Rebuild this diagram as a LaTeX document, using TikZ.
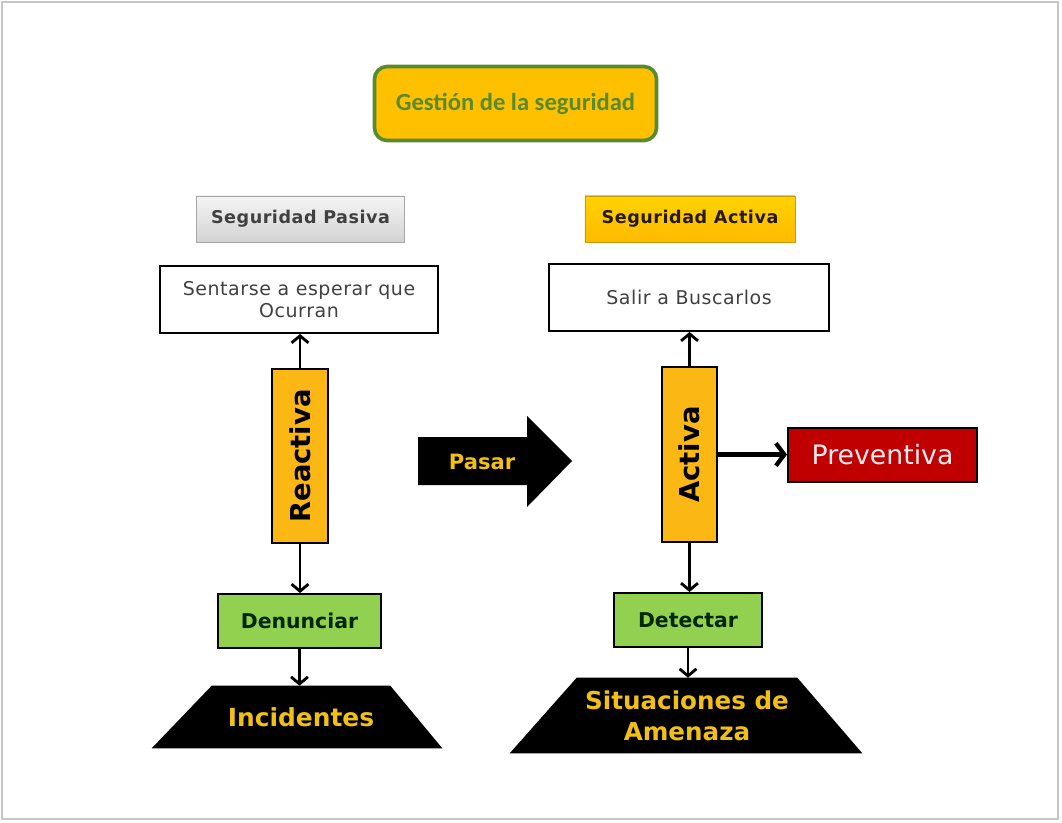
\documentclass[tikz,border=0pt]{standalone}
\usepackage{fontspec}
\setmainfont{DejaVu Sans}
\newfontfamily\calib{Carlito}
\newfontfamily\spaced[LetterSpace=3]{DejaVu Sans}
\usepackage{tikz}
\usetikzlibrary{shapes.geometric, arrows.meta, positioning, calc, backgrounds}

\definecolor{oro}{HTML}{FFC000}
\definecolor{barra}{HTML}{FBB714}
\definecolor{oliva}{HTML}{5A8A2F}
\definecolor{verde}{HTML}{92D050}
\definecolor{rojo}{HTML}{C00000}
\definecolor{letraoro}{HTML}{F2C014}
\definecolor{gristxt}{HTML}{404040}

\tikzset{
  >={Straight Barb[length=5pt,width=12pt,line width=2pt]},
  flecha/.style={->, line width=2pt},
  caja/.style={draw=black, line width=1.4pt, fill=white, align=center, inner sep=2pt},
  barrabox/.style={draw=black, line width=1.4pt, fill=barra, minimum width=1.4cm, minimum height=4.35cm},
  verdebox/.style={draw=black, line width=1.4pt, fill=verde, minimum height=1.35cm},
  base/.style={inner sep=0pt, align=center, text=letraoro}
}

\begin{document}
\begin{tikzpicture}[x=0.025cm, y=-0.025cm]
\useasboundingbox (0,0) rectangle (1062,822);
\draw [gray!45, line width=1pt] (2,2) rectangle (1058,819);

\node (gestion) [draw=oliva, line width=2.6pt, rounded corners=9pt, fill=oro, minimum width=7.05cm, minimum height=1.85cm, text=oliva, font=\calib\bfseries\fontsize{17.5}{20}\selectfont] at (515.5,103.5) {Gestión de la seguridad};

% columna pasiva
\node (pasiva) [draw=gray!70, top color=gray!8, bottom color=gray!35, minimum width=5.2cm, minimum height=1.15cm, text=gristxt, font=\spaced\bfseries\fontsize{12.5}{15}\selectfont] at (300.5,219) {Seguridad Pasiva};
\node (sentarse) [caja, minimum width=6.95cm, minimum height=1.675cm, text=gristxt, font=\spaced\fontsize{13.5}{15.6}\selectfont] at (299,299.5) {Sentarse a esperar que\\Ocurran};
\node (reactiva) [barrabox] at (300,456) {\rotatebox{90}{\bfseries\fontsize{19.5}{22}\selectfont Reactiva}};
\node (denunciar) [verdebox, minimum width=4.075cm, font=\bfseries\fontsize{14.5}{17}\selectfont, text=black!85!green] at (299.5,621) {Denunciar};
\node (incidentes) [base, minimum width=4.45cm, minimum height=1.55cm, font=\bfseries\fontsize{17.7}{20}\selectfont] at (301,717) {Incidentes};
\begin{scope}[on background layer]
\fill [black] (incidentes.north west) -- (incidentes.north east) -- ($(incidentes.south east)+(52,0)$) -- ($(incidentes.south west)+(-60,0)$) -- cycle;
\end{scope}

    \draw [flecha] (reactiva.north) -- (reactiva.north |- sentarse.south);
    \draw [flecha] (reactiva.south) -- (reactiva.south |- denunciar.north);
    \draw [flecha] (denunciar.south) -- (denunciar.south |- incidentes.north);

% flecha central
\fill [black] (418,437) -- (527,437) -- (527,416) -- (572,461) -- (527,507) -- (527,485) -- (418,485) -- cycle;
\node (pasar) [text=letraoro, font=\bfseries\fontsize{15}{18}\selectfont] at (482,462) {Pasar};

% columna activa
\node (activalbl) [draw=oro!80!black, top color=oro!70!yellow, bottom color=oro!90!orange, minimum width=5.25cm, minimum height=1.15cm, text=black!80!brown, font=\spaced\bfseries\fontsize{12.5}{15}\selectfont] at (690,219) {Seguridad Activa};
\node (salir) [caja, minimum width=7cm, minimum height=1.675cm, text=gristxt, font=\spaced\fontsize{13.5}{15.6}\selectfont] at (689,297.5) {Salir a Buscarlos};
\node (activa) [barrabox, minimum width=1.375cm, minimum height=4.375cm] at (689.5,454.5) {\rotatebox{90}{\bfseries\fontsize{19.5}{22}\selectfont Activa}};
\node (detectar) [verdebox, minimum width=3.7cm, font=\bfseries\fontsize{14.5}{17}\selectfont, text=black!85!green] at (688,620) {Detectar};
\node (situaciones) [base, minimum width=5.5cm, minimum height=1.875cm, font=\bfseries\fontsize{17.5}{22}\selectfont] at (687,715.5) {Situaciones de\\Amenaza};
\begin{scope}[on background layer]
\fill [black] (situaciones.north west) -- (situaciones.north east) -- ($(situaciones.south east)+(65,0)$) -- ($(situaciones.south west)+(-67,0)$) -- cycle;
\end{scope}
\node (preventiva) [draw=black, line width=1.4pt, fill=rojo, minimum width=4.725cm, minimum height=1.35cm, text=red!8, font=\fontsize{19}{22}\selectfont] at (882.5,455) {Preventiva};

    \draw [flecha] (activa.north) -- (activa.north |- salir.south);
    \draw [flecha] (activa.south) -- (activa.south |- detectar.north);
    \draw [flecha] (detectar.south) -- (detectar.south |- situaciones.north);
    \draw [-{Straight Barb[length=6pt,width=16pt,line width=3pt]}, line width=3pt] (activa.east) -- (activa.east -| preventiva.west);
\end{tikzpicture}
\end{document}
